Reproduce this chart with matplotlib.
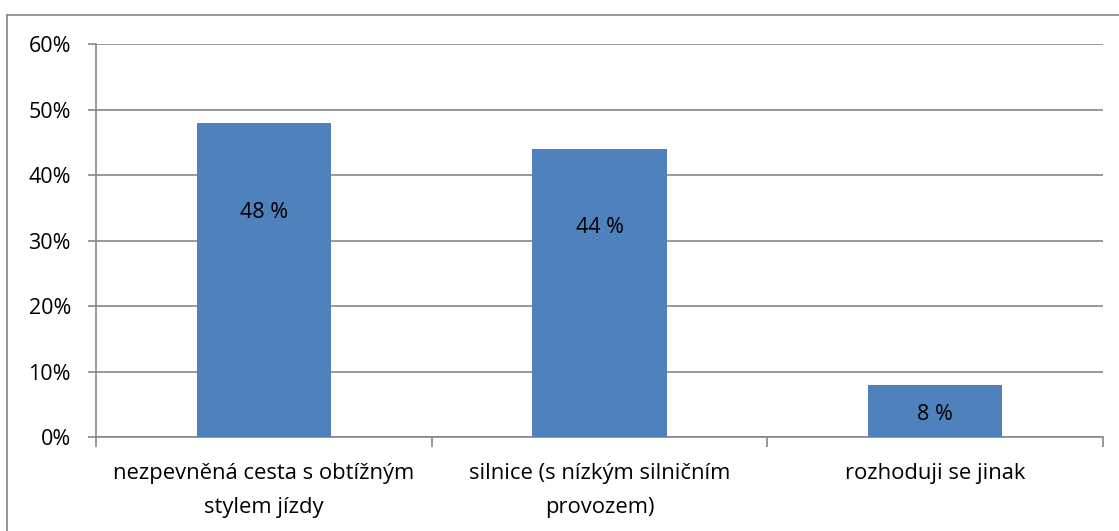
import matplotlib
matplotlib.use("Agg")
import matplotlib.pyplot as plt
from matplotlib.lines import Line2D

# data
categories = ["nezpevněná cesta s obtížným\nstylem jízdy",
              "silnice (s nízkým silničním\nprovozem)",
              "rozhoduji se jinak"]
values = [48, 44, 8]
labels = ["48 %", "44 %", "8 %"]
label_y = [34.3, 32.0, 3.5]   # where the data labels sit (hand-placed in original)
yticks = [0, 10, 20, 30, 40, 50, 60]

plt.rcParams['font.family'] = ['Open Sans', 'DejaVu Sans']
gray = '#868686'
fs = 15.5

fig = plt.figure(figsize=(11.19, 5.31), dpi=100)
ax = fig.add_axes([96/1119, 1 - 437/531, (1103-96)/1119, (437-44)/531])

x = list(range(len(values)))
ax.bar(x, values, width=0.4, color='#4F81BD', zorder=3)
for xi, ly, t in zip(x, label_y, labels):
    ax.text(xi, ly, t, ha='center', va='center', fontsize=fs, color='black', zorder=4)

ax.set_xlim(-0.5, 2.5)
ax.set_ylim(0, 60)
ax.set_yticks(yticks)
ax.set_yticklabels([f"{v}%" for v in yticks], fontsize=fs)
ax.yaxis.grid(True, color=gray, linewidth=1.2, zorder=0)
ax.set_axisbelow(True)

ax.set_xticks(x)
ax.set_xticklabels(categories, fontsize=fs + 0.3, linespacing=1.8)
ax.tick_params(axis='x', length=0, pad=19)
ax.set_xticks([-0.5, 0.5, 1.5, 2.5], minor=True)
ax.tick_params(axis='x', which='minor', length=7, width=1.2, color=gray)
ax.tick_params(axis='y', length=6, width=1.2, color=gray, pad=12)

for s in ['top', 'right']:
    ax.spines[s].set_visible(False)
for s in ['left', 'bottom']:
    ax.spines[s].set_color(gray)
    ax.spines[s].set_linewidth(1.2)

# outer chart border (top and left only visible in crop)
fig.add_artist(Line2D([7/1119, 7/1119], [0, 1 - 15/531], color=gray, linewidth=1.2, transform=fig.transFigure))
fig.add_artist(Line2D([7/1119, 1], [1 - 15/531, 1 - 15/531], color=gray, linewidth=1.2, transform=fig.transFigure))

fig.savefig("out.png", dpi=100)
